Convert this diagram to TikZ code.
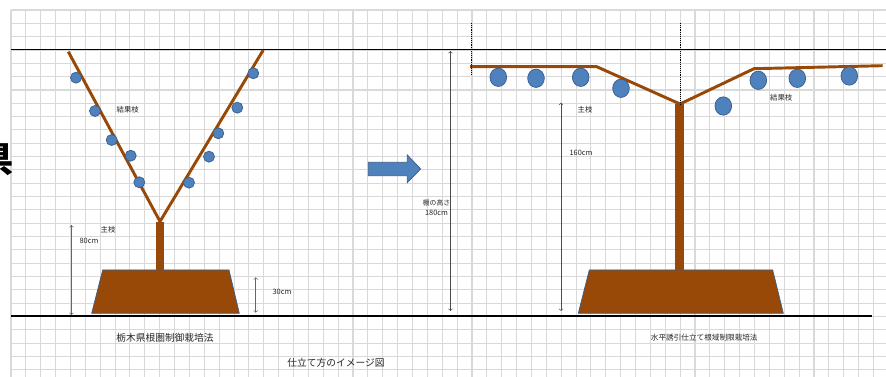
\documentclass[tikz,border=0pt]{standalone}
\usepackage{fontspec}
\setmainfont{Noto Sans CJK JP}
\usetikzlibrary{shapes.geometric}
\definecolor{soil}{RGB}{152,72,7}
\definecolor{fruitblue}{RGB}{79,129,189}
\definecolor{edgeblue}{RGB}{56,93,138}
\definecolor{gridgray}{RGB}{217,217,217}
\tikzstyle{gridline} = [draw=gridgray, line width=0.9pt]
\tikzstyle{branch} = [draw=soil, line width=2.5pt]
\tikzstyle{pot} = [fill=soil, draw=edgeblue, line width=0.6pt]
\tikzstyle{trunk} = [fill=soil]
\tikzstyle{fruit} = [circle, fill=fruitblue, draw=edgeblue, line width=0.6pt, minimum size=0.33cm, inner sep=0pt]
\tikzstyle{bigfruit} = [ellipse, fill=fruitblue, draw=edgeblue, line width=0.6pt, minimum width=0.5cm, minimum height=0.55cm, inner sep=0pt]
\tikzstyle{smalltext} = [font=\fontsize{6.3}{7}\selectfont, text=black!85, inner sep=0pt]
\tikzstyle{captiontext} = [font=\fontsize{8.3}{9}\selectfont, text=black!85, inner sep=0pt]
\tikzstyle{dimline} = [<->, >=to, draw=black!60, line width=0.5pt]

\begin{document}
\begin{tikzpicture}[x=0.03cm, y=-0.03cm]
	\useasboundingbox (0,0) rectangle (886,377);
	\fill [white] (0,0) rectangle (886,377);
	\clip (0,0) rectangle (886,377);
	% squared paper
	\foreach \i in {0,...,58}
		\draw [gridline] (11+\i*14.87,10) -- (11+\i*14.87,377);
	\foreach \j in {0,...,27}
		\draw [gridline] (11,10+\j*13.33) -- (886,10+\j*13.33);
	\node (cut) [font=\bfseries\fontsize{30}{30}\selectfont] at (-4,160) {県};

	% trellis height and ground
	\draw [line width=0.8pt] (11,49.5) -- (886,49.5);
	\draw [line width=1.8pt] (11,316) -- (872,316);

	% root-zone restriction, V shape
	\draw [pot] (91.7,313.3) -- (102.7,270) -- (229,270) -- (239.3,313.3) -- cycle;
	\fill [trunk] (155.7,222) rectangle (164,270);
	\coordinate (apex1) at (160,221.5);
	\coordinate (leftend) at (68.3,51.7);
	\coordinate (rightend) at (263.3,50);
	\draw [branch] (leftend) -- (apex1) -- (rightend);
	\node (f1) [fruit] at (76,77.7) {};
	\node (f2) [fruit] at (95,111) {};
	\node (f3) [fruit] at (111.7,140) {};
	\node (f4) [fruit] at (130.7,155.7) {};
	\node (f5) [fruit] at (139.3,182.3) {};
	\node (f6) [fruit] at (253.3,73.3) {};
	\node (f7) [fruit] at (237.3,107.7) {};
	\node (f8) [fruit] at (218.3,133.3) {};
	\node (f9) [fruit] at (209,156.7) {};
	\node (f10) [fruit] at (189,182.7) {};
	\node (shoot1) [smalltext] at (127.7,110) {結果枝};
	\node (main1) [smalltext] at (108,230) {主枝};
	\node (h80) [smalltext] at (89,241) {80cm};
	\node (h30) [smalltext] at (282,292) {30cm};
	\coordinate (b80) at (71.5,315);
	\coordinate (t80) at (71.5,225);
	\draw [dimline] (b80) -- (t80);
	\coordinate (b30) at (255.7,312.7);
	\coordinate (t30) at (255.7,277.3);
	\draw [dimline] (b30) -- (t30);
	\node (method1) [captiontext] at (165,337.5) {栃木県根圏制御栽培法};

	% change-over arrow
	\draw [fill=fruitblue, draw=edgeblue, line width=0.6pt] (368.3,162.3) -- (407.3,162.3) -- (407.3,155) -- (420.7,169) -- (407.3,182.7) -- (407.3,175.7) -- (368.3,175.7) -- cycle;

	% horizontal training
	\draw [pot] (578.3,313.3) -- (589.3,270) -- (772.7,270) -- (783.3,313.3) -- cycle;
	\fill [trunk] (675.3,104) rectangle (684.3,270);
	\coordinate (apex2) at (680,104);
	\coordinate (bendL) at (596.7,66.7);
	\coordinate (endL) at (470,66.7);
	\coordinate (bendR) at (754,68.7);
	\coordinate (endR) at (882.7,65.7);
	\draw [branch] (endL) -- (bendL) -- (apex2) -- (bendR) -- (endR);
	\draw [densely dotted, line width=0.6pt] (471,23) -- (471,75);
	\draw [densely dotted, line width=0.6pt] (680,23) -- (apex2);
	\node (g1) [bigfruit] at (498.3,77.3) {};
	\node (g2) [bigfruit] at (536,78.3) {};
	\node (g3) [bigfruit] at (580.7,77.3) {};
	\node (g4) [bigfruit] at (621,88.3) {};
	\node (g5) [bigfruit] at (723.3,106) {};
	\node (g6) [bigfruit] at (758.3,80.3) {};
	\node (g7) [bigfruit] at (797.3,78.3) {};
	\node (g8) [bigfruit] at (849.3,76) {};
	\node (shoot2) [smalltext] at (781.3,97.7) {結果枝};
	\node (main2) [smalltext] at (585,110) {主枝};
	\node (h160) [smalltext] at (581,153) {160cm};
	\node (tana) [smalltext, font=\fontsize{5.8}{6}\selectfont] at (436.5,203) {棚の高さ};
	\node (h180) [smalltext] at (436.5,213) {180cm};
	\coordinate (b180) at (450.5,311);
	\coordinate (t180) at (450.5,51);
	\draw [dimline, draw=black!70] (b180) -- (t180);
	\coordinate (b160) at (561,311);
	\coordinate (t160) at (561,102.7);
	\draw [dimline, draw=black!70] (b160) -- (t160);
	\node (method2) [smalltext, font=\fontsize{6.5}{7}\selectfont] at (704.3,337.5) {水平誘引仕立て根域制限栽培法};

	\node (title) [captiontext] at (336,363) {仕立て方のイメージ図};
\end{tikzpicture}
\end{document}
